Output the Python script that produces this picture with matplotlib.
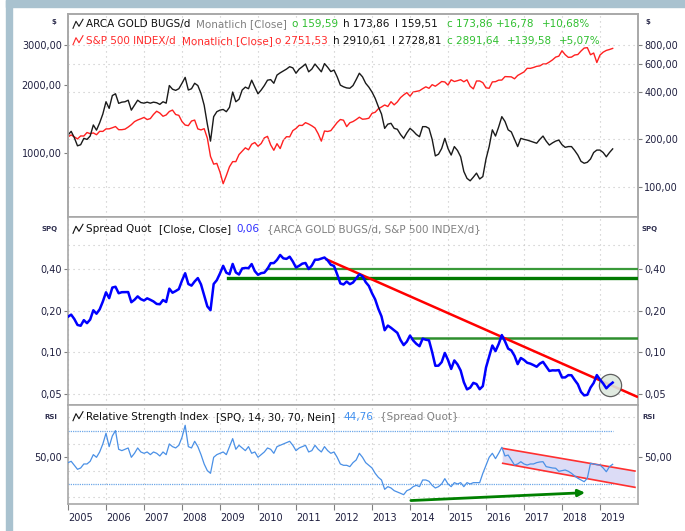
import numpy as np
import matplotlib.pyplot as plt
from matplotlib.lines import Line2D
from matplotlib.patches import Rectangle, Polygon

# monthly closes Jan 2005 .. May 2019
hui = [213, 225, 205, 182, 185, 203, 200, 210, 247, 229, 255, 290,
       347, 315, 380, 390, 339, 345, 347, 355, 307, 330, 355, 343,
       340, 345, 340, 345, 342, 334, 347, 340, 440, 417, 410, 420,
       455, 496, 412, 420, 455, 440, 392, 330, 250, 195, 279, 300,
       307, 310, 300, 320, 400, 347, 360, 412, 430, 420, 476, 430,
       390, 412, 440, 476, 480, 455, 513, 530, 545, 560, 580, 570,
       527, 560, 580, 603, 538, 560, 603, 570, 538, 607, 575, 540,
       552, 500, 443, 432, 425, 423, 440, 480, 527, 500, 455, 430,
       400, 365, 323, 290, 235, 250, 253, 235, 232, 215, 203, 220,
       235, 226, 215, 208, 241, 241, 235, 200, 157, 161, 175, 203,
       175, 159, 180, 170, 155, 125, 113, 109, 115, 122, 112, 116,
       150, 180, 230, 210, 240, 279, 260, 230, 223, 200, 180, 203,
       200, 198, 195, 192, 189, 200, 210, 195, 184, 190, 195, 198,
       185, 178, 180, 180, 170, 159, 145, 141, 143, 150, 165, 171,
       171, 165, 155, 165, 174]

spx = [1181, 1204, 1181, 1157, 1192, 1191, 1234, 1220, 1229, 1207, 1249, 1248,
       1280, 1281, 1295, 1311, 1270, 1270, 1277, 1304, 1336, 1378, 1401, 1418,
       1438, 1407, 1421, 1482, 1531, 1503, 1455, 1474, 1527, 1549, 1481, 1468,
       1379, 1331, 1323, 1386, 1400, 1280, 1267, 1283, 1166, 969, 896, 903,
       826, 735, 798, 873, 919, 919, 987, 1021, 1057, 1036, 1096, 1115,
       1074, 1104, 1169, 1187, 1089, 1031, 1102, 1049, 1141, 1183, 1181, 1258,
       1286, 1327, 1326, 1364, 1345, 1321, 1292, 1219, 1131, 1253, 1247, 1258,
       1312, 1366, 1408, 1398, 1310, 1362, 1379, 1407, 1441, 1412, 1416, 1426,
       1498, 1515, 1569, 1598, 1631, 1606, 1686, 1633, 1682, 1757, 1806, 1848,
       1783, 1859, 1872, 1884, 1924, 1960, 1931, 2003, 1972, 2018, 2068, 2059,
       1995, 2105, 2068, 2086, 2107, 2063, 2104, 1972, 1920, 2079, 2080, 2044,
       1940, 1932, 2060, 2065, 2097, 2099, 2174, 2171, 2168, 2126, 2199, 2239,
       2279, 2364, 2363, 2384, 2412, 2423, 2470, 2472, 2519, 2575, 2648, 2674,
       2824, 2714, 2641, 2648, 2705, 2718, 2816, 2902, 2914, 2712, 2760, 2507,
       2704, 2784, 2834, 2860, 2892]

rsi = [46, 47, 44, 41, 42, 45, 45, 47, 52, 50, 54, 60,
       68, 58, 66, 70, 56, 55, 56, 57, 50, 53, 57, 54,
       53, 54, 52, 54, 53, 51, 54, 52, 60, 58, 57, 59,
       65, 74, 58, 57, 62, 58, 52, 45, 40, 38, 50, 52,
       53, 54, 52, 58, 64, 56, 59, 57, 55, 58, 53, 54,
       50, 52, 54, 57, 56, 53, 58, 59, 60, 61, 62, 59,
       55, 57, 58, 59, 54, 55, 59, 56, 54, 58, 55, 53,
       54, 50, 45, 44, 44, 43, 46, 48, 53, 50, 46, 44,
       42, 38, 35, 33, 26, 28, 27, 25, 24, 23, 22, 25,
       26, 28, 29, 28, 33, 33, 32, 29, 27, 28, 30, 34,
       30, 28, 31, 30, 31, 28, 31, 30, 31, 31, 31, 38,
       44, 50, 53, 49, 53, 57.5, 51, 51.7, 48, 44.2, 45, 46.7,
       45, 44.2, 45, 45, 46, 46.5, 46.7, 43, 42.5, 42, 41.8, 39.5,
       40, 40.5, 39.5, 38, 36, 34.3, 33, 31.7, 34.3, 45.5, 45, 44.5,
       44.2, 42, 39.2, 43, 44.76]

years = list(range(2005, 2020))
spx_ticks = [1000, 2000, 3000]
hui_ticks = [100, 200, 400, 600, 800]
spq_ticks = [0.05, 0.1, 0.2, 0.4]

# drawn annotations (year, value)
trend_line = [(2011.8, 0.47), (2019.97, 0.0476)]
green_levels = [(2010.23, 0.40, '#3a9a3a', 1.6), (2009.2, 0.346, '#007a00', 2.4),
                (2014.04, 0.127, '#2e8f2e', 1.8)]
circle_at = (2019.25, 0.0578)
chan_upper = [(2016.44, 56.7), (2019.92, 39.7)]
chan_lower = [(2016.44, 45.5), (2019.92, 27.5)]
arrow_from = (2013.95, 17.5)
arrow_to = (2018.68, 23.6)

W, H = 685, 531
L, R = 68, 638
fig = plt.figure(figsize=(W / 100, H / 100), dpi=100)

def fmt(v):
    return f"{v:.2f}".replace('.', ',')

def panel(top, bottom):
    return fig.add_axes([L / W, 1 - bottom / H, (R - L) / W, (bottom - top) / H])

def txt(x, y, s, color, size=7.5, **kw):
    fig.text(x / W, 1 - y / H, s, color=color, fontsize=size, va='center', ha='left', **kw)

def icon(x, y, color):
    xs = np.array([x, x + 3, x + 6, x + 10]) / W
    ys = 1 - np.array([y + 4, y - 3, y + 2, y - 5]) / H
    fig.add_artist(Line2D(xs, ys, color=color, lw=0.8))

tick_col = '#202040'
grid_kw = dict(color='#c4c4c4', linestyle=(0, (1, 3.5)), linewidth=0.8)

def style(ax):
    for s in ax.spines.values():
        s.set_color('#a8a8a8')
        s.set_linewidth(1.2)
    ax.tick_params(direction='out', length=3, width=0.8, color='#808080',
                   labelsize=7, labelcolor=tick_col, pad=1.5)
    ax.set_xlim(2005, 2020)
    ax.set_xticks(years)
    ax.grid(axis='x', **grid_kw)

# frame
fig.patches.append(Rectangle((6 / W, 1 - 7 / H), (W - 6) / W, 7 / H,
                             transform=fig.transFigure, color='#a9c2cf', zorder=0))
fig.patches.append(Rectangle((6 / W, 0), 5.5 / W, 1, transform=fig.transFigure,
                             color='#a9c2cf', zorder=0))

t = 2005 + np.arange(len(hui)) / 12.0
spq = np.array(hui) / np.array(spx)

# --- top panel: S&P (left) and gold bugs (right)
ax1 = panel(13.5, 217.5)
style(ax1)
ax1.set_yscale('log')
ax1.set_ylim(522, 4118)
ax1.plot(t, spx, color='#ff2020', lw=1.0)
ax1.set_yticks(spx_ticks)
ax1.set_yticklabels([fmt(v) for v in spx_ticks])
ax1.yaxis.set_minor_locator(plt.NullLocator())
ax1.tick_params(axis='x', length=0, labelbottom=False)

ax1r = ax1.twinx()
ax1r.set_yscale('log')
ax1r.set_ylim(63.7, 1264)
ax1r.plot(t, hui, color='#1a1a1a', lw=1.0)
ax1r.set_yticks(hui_ticks)
ax1r.set_yticklabels([fmt(v) for v in hui_ticks])
ax1r.yaxis.set_minor_locator(plt.NullLocator())
ax1r.tick_params(direction='out', length=3, width=0.8, color='#808080',
                 labelsize=7, labelcolor=tick_col, pad=1.5)
ax1r.grid(axis='y', **grid_kw)
for s in ax1r.spines.values():
    s.set_color('#a8a8a8')
    s.set_linewidth(1.2)

# --- middle panel: spread
ax2 = panel(217.5, 405)
style(ax2)
ax2.set_yscale('log')
ax2.set_ylim(0.0414, 0.944)
ax2.set_yticks(spq_ticks)
ax2.set_yticklabels([fmt(v) for v in spq_ticks])
ax2.yaxis.set_minor_locator(plt.NullLocator())
ax2.tick_params(axis='y', right=True, labelright=True)
ax2.tick_params(axis='x', length=0, labelbottom=False)
ax2.grid(axis='y', **grid_kw)
ax2.axhline(0.6, **grid_kw)
for x0, lev, c, lw in green_levels:
    ax2.plot([x0, 2020], [lev, lev], color=c, lw=lw, zorder=3)
ax2.plot(*zip(*trend_line), color='#ff0000', lw=1.8, zorder=4)
ax2.plot(*circle_at, marker='o', ms=16, mfc='#dde8dd', mec='#505050', mew=0.9,
         alpha=0.9, zorder=4)
ax2.plot(t, spq, color='#0000ff', lw=1.8, zorder=5)

# --- bottom panel: RSI
ax3 = panel(405, 504)
style(ax3)
ax3.set_ylim(15.0, 89.2)
ax3.set_yticks([50])
ax3.set_yticklabels([fmt(50)])
ax3.tick_params(axis='y', right=True, labelright=True)
for g in (20, 40, 60, 80):
    ax3.axhline(g, **grid_kw)
for b in (30, 70):
    ax3.plot([t[0], t[-1]], [b, b], color='#6fa8e8', lw=0.9, linestyle=(0, (1, 0.8)))
chan = Polygon(chan_upper + chan_lower[::-1], closed=True, facecolor='#dcdcf6',
               edgecolor='none', zorder=2)
ax3.add_patch(chan)
ax3.plot(*zip(*chan_upper), color='#ff3030', lw=1.2, zorder=3)
ax3.plot(*zip(*chan_lower), color='#ff3030', lw=1.2, zorder=3)
ax3.plot(t, rsi, color='#4a90e6', lw=0.9, zorder=4)
ax3.annotate('', xy=arrow_to, xytext=arrow_from,
             arrowprops=dict(arrowstyle='-|>', color='#008000', lw=2.0,
                             mutation_scale=10), zorder=5)
ax3.set_xticklabels([str(y) for y in years])
ax3.tick_params(axis='x', length=4, pad=2.5, labelsize=7)
for lab in ax3.get_xticklabels():
    lab.set_horizontalalignment('left')

# --- texts
green, red, grey = '#2fbf2f', '#ff2a2a', '#808080'
icon(73, 24.3, '#1a1a1a')
txt(86, 24.3, 'ARCA GOLD BUGS/d', '#101010')
txt(196, 24.3, 'Monatlich [Close]', grey)
txt(292, 24.3, 'o 159,59', green)
txt(343, 24.3, 'h 173,86', '#101010')
txt(395, 24.3, 'l 159,51', '#101010')
txt(447, 24.3, 'c 173,86', green)
txt(496, 24.3, '+16,78', green)
txt(542, 24.3, '+10,68%', green)

icon(73, 40.7, red)
txt(86, 40.7, 'S&P 500 INDEX/d', red)
txt(182, 40.7, 'Monatlich [Close]', red)
txt(275, 40.7, 'o 2751,53', red)
txt(333, 40.7, 'h 2910,61', '#101010')
txt(392, 40.7, 'l 2728,81', '#101010')
txt(447, 40.7, 'c 2891,64', green)
txt(507, 40.7, '+139,58', green)
txt(559, 40.7, '+5,07%', green)

icon(73, 229.3, '#101010')
txt(86, 229.3, 'Spread Quot', '#101010')
txt(159, 229.3, '[Close, Close]', '#101010')
txt(236, 229.3, '0,06', '#3030ff')
txt(267, 229.3, '{ARCA GOLD BUGS/d, S&P 500 INDEX/d}', grey)

icon(73, 416.7, '#101010')
txt(86, 416.7, 'Relative Strength Index', '#101010')
txt(216, 416.7, '[SPQ, 14, 30, 70, Nein]', '#101010')
txt(343, 416.7, '44,76', '#3f8fef')
txt(380, 416.7, '{Spread Quot}', grey)

for x, y, s in [(51, 22, '$'), (645, 22, '$'), (42, 229, 'SPQ'), (642, 229, 'SPQ'),
                (44, 416.7, 'RSI'), (642, 416.7, 'RSI')]:
    txt(x, y, s, '#303050', size=5, fontweight='bold')

fig.savefig('out.png', dpi=100)
